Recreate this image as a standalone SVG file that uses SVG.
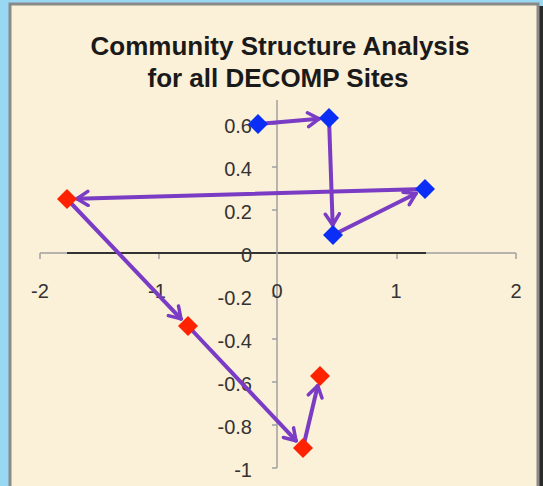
<svg xmlns="http://www.w3.org/2000/svg" width="543" height="486" viewBox="0 0 543 486">
<defs>
<style>
.title{font-family:"Liberation Sans",Arial,sans-serif;font-weight:bold;font-size:26px;fill:#1a1a1a;text-anchor:middle}
.lbl{font-family:"Liberation Sans",Arial,sans-serif;font-size:20px;fill:#333}
.yl{text-anchor:end}
.xl{text-anchor:middle}
.axis{stroke:#a0a0a0;stroke-width:1.5;fill:none}
.conn{stroke:#7a3cc4;stroke-width:4;fill:none;stroke-linecap:round;marker-end:url(#arr)}
.blue{fill:#0a2ef5}
.red{fill:#ff2200}
</style>
<marker id="arr" markerUnits="userSpaceOnUse" viewBox="-13 -9 15 18" markerWidth="15" markerHeight="18" refX="0" refY="0" orient="auto">
<path d="M-11,-7 L0,0 L-11,7" fill="none" stroke="#7a3cc4" stroke-width="3.5" stroke-linecap="round" stroke-linejoin="round"/>
</marker>
</defs>
<rect x="0" y="0" width="543" height="486" fill="#98d8f3"/>
<rect x="537" y="6" width="6" height="480" fill="#2a2a2a"/>
<rect x="10" y="4" width="528" height="484" fill="#fbf0d8" stroke="#8a8a8a" stroke-width="3"/>
<g id="title">
<text class="title" x="280" y="55">Community Structure Analysis</text>
<text class="title" x="278" y="87">for all DECOMP Sites</text>
</g>
<g id="axes">
<line class="axis" x1="40" y1="253" x2="516" y2="253"/>
<line class="axis" x1="40" y1="253" x2="40" y2="259"/>
<line class="axis" x1="159" y1="253" x2="159" y2="259"/>
<line class="axis" x1="397" y1="253" x2="397" y2="259"/>
<line class="axis" x1="516" y1="253" x2="516" y2="259"/>
<line x1="67" y1="253" x2="426" y2="253" stroke="#333" stroke-width="2"/>
<line class="axis" x1="277" y1="100" x2="277" y2="468"/>
<path class="axis" d="M272,124H277M272,167H277M272,210H277M272,296H277M272,339H277M272,382H277M272,425H277M272,468H277"/>
<text class="lbl yl" x="252" y="133">0.6</text>
<text class="lbl yl" x="252" y="176">0.4</text>
<text class="lbl yl" x="252" y="219">0.2</text>
<text class="lbl yl" x="252" y="262">0</text>
<text class="lbl yl" x="252" y="305">-0.2</text>
<text class="lbl yl" x="252" y="348">-0.4</text>
<text class="lbl yl" x="252" y="391">-0.6</text>
<text class="lbl yl" x="252" y="434">-0.8</text>
<text class="lbl yl" x="252" y="477">-1</text>
<text class="lbl xl" x="40" y="298">-2</text>
<text class="lbl xl" x="157" y="298">-1</text>
<text class="lbl xl" x="277" y="298">0</text>
<text class="lbl xl" x="396" y="298">1</text>
<text class="lbl xl" x="516" y="298">2</text>
</g>
<g id="connectors">
<line class="conn" x1="258" y1="124" x2="319" y2="118.8"/>
<line class="conn" x1="329" y1="118" x2="332.7" y2="225"/>
<line class="conn" x1="333" y1="235" x2="416" y2="193.5"/>
<line class="conn" x1="425" y1="189" x2="77" y2="198.7"/>
<line class="conn" x1="67" y1="199" x2="181" y2="318.8"/>
<line class="conn" x1="188" y1="326" x2="296" y2="440.7"/>
<line class="conn" x1="303" y1="448" x2="317.7" y2="385.7"/>
</g>
<g id="b1"><path class="blue" d="M258,114 L268,124 L258,134 L248,124Z"/></g>
<g id="b2"><path class="blue" d="M329,108 L339,118 L329,128 L319,118Z"/></g>
<g id="b3"><path class="blue" d="M333,225 L343,235 L333,245 L323,235Z"/></g>
<g id="b4"><path class="blue" d="M425,179 L435,189 L425,199 L415,189Z"/></g>
<g id="r1"><path class="red" d="M67,189 L77,199 L67,209 L57,199Z"/></g>
<g id="r2"><path class="red" d="M188,316 L198,326 L188,336 L178,326Z"/></g>
<g id="r3"><path class="red" d="M303,438 L313,448 L303,458 L293,448Z"/></g>
<g id="r4"><path class="red" d="M320,366 L330,376 L320,386 L310,376Z"/></g>
</svg>
